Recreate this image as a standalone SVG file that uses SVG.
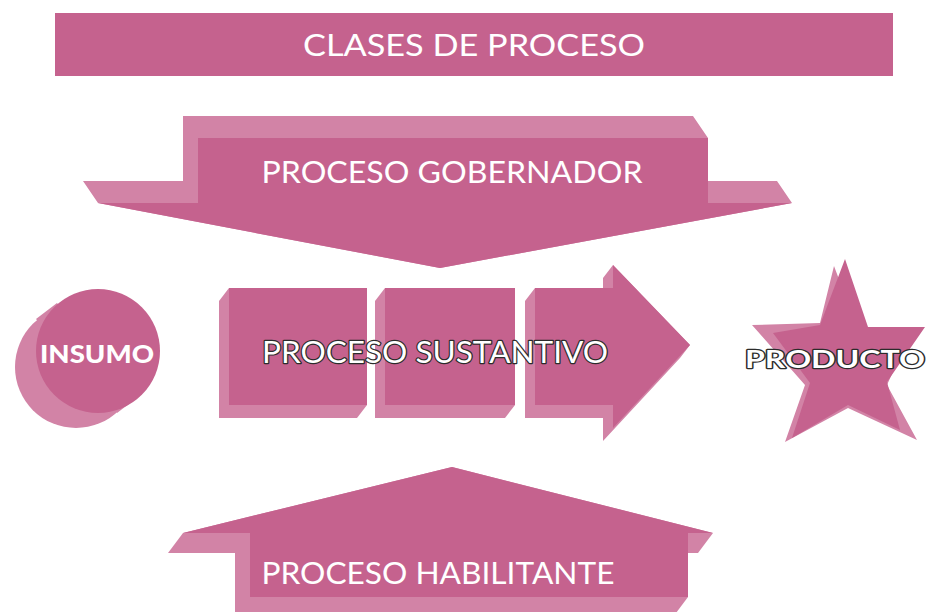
<svg xmlns="http://www.w3.org/2000/svg" width="930" height="612" viewBox="0 0 930 612">
<style>
.dark{fill:#c5628e}
.light{fill:#d283a6}
.t{font-family:Lato,"Open Sans","Liberation Sans",sans-serif;fill:#ffffff}
.outline{font-family:Lato,"Open Sans","Liberation Sans",sans-serif;fill:#ffffff;stroke:#2b2b2b;stroke-width:2.4;paint-order:stroke;stroke-linejoin:round}
</style>
<rect width="930" height="612" fill="#ffffff"/>
<g id="titulo">
<rect class="dark" x="55" y="13" width="838" height="63"/>
<text class="t" x="474" y="56" font-size="30" text-anchor="middle" textLength="342" lengthAdjust="spacingAndGlyphs">CLASES DE PROCESO</text>
</g>
<g id="gobernador">
<polygon class="light" points="183,116 693,116 708,138 708,181 777,181 792,203 440,268 98,203 83,181 183,181"/>
<polygon class="dark" points="198,138 708,138 708,203 792,203 440,268 98,203 198,203"/>
<text class="t" x="452" y="183" font-size="30" text-anchor="middle" textLength="381" lengthAdjust="spacingAndGlyphs">PROCESO GOBERNADOR</text>
</g>
<g id="insumo">
<circle class="light" cx="76" cy="367" r="61"/>
<polygon class="light" points="57,303 138,397 117,413 36,319"/>
<circle class="dark" cx="98" cy="351" r="62"/>
<text class="t" x="97" y="363" font-size="24" font-weight="900" text-anchor="middle" textLength="114" lengthAdjust="spacingAndGlyphs">INSUMO</text>
</g>
<g id="sustantivo">
<polygon class="light" points="229,288 367,288 367,405 357,418 219,418 219,301"/>
<rect class="dark" x="229" y="288" width="138" height="117"/>
<polygon class="light" points="385,288 515,288 515,405 505,418 375,418 375,301"/>
<rect class="dark" x="385" y="288" width="130" height="117"/>
<polygon class="light" points="535,288 603,288 603,278 613,265 690,345 680,358 603,441 603,418 525,418 525,301"/>
<polygon class="dark" points="535,288 613,288 613,265 690,345 613,428 613,405 535,405"/>
<text class="outline" x="435" y="363" font-size="30" text-anchor="middle" textLength="346" lengthAdjust="spacingAndGlyphs">PROCESO SUSTANTIVO</text>
</g>
<g id="producto">
<polygon class="light" points="834,266 857,327 912,330 887,385 917,440 848,408 785,442 805,385 752,325 820,323"/>
<polygon class="dark" points="845,259 868,327 925,327 887,382 900,430 848,405 792,438 810,383 773,333 820,325"/>
<text class="outline" x="835" y="368" font-size="24" font-weight="bold" text-anchor="middle" textLength="180" lengthAdjust="spacingAndGlyphs">PRODUCTO</text>
</g>
<g id="habilitante">
<polygon class="light" points="183,533 168,553 235,553 235,617 673,617 688,597 688,553 698,553 713,533 452,467"/>
<polygon class="dark" points="452,467 713,533 688,533 688,597 250,597 250,533 183,533"/>
<text class="t" x="438" y="584" font-size="30" text-anchor="middle" textLength="353" lengthAdjust="spacingAndGlyphs">PROCESO HABILITANTE</text>
</g>
<g id="connectors"/>
</svg>
